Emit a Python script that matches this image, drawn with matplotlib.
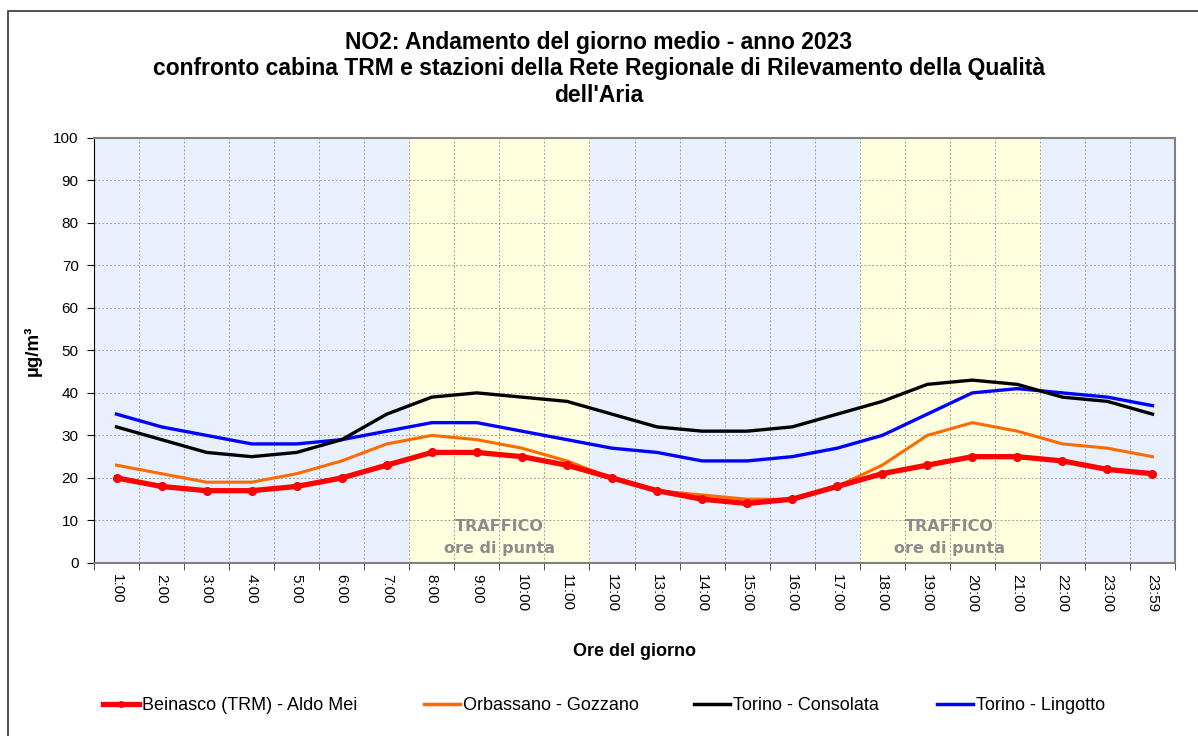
import matplotlib
matplotlib.use("Agg")
import matplotlib.pyplot as plt
from matplotlib.lines import Line2D
from matplotlib.patches import Rectangle
import numpy as np

plt.rcParams['font.family'] = ['Liberation Sans', 'DejaVu Sans']

hours = ["1:00", "2:00", "3:00", "4:00", "5:00", "6:00", "7:00", "8:00", "9:00", "10:00",
         "11:00", "12:00", "13:00", "14:00", "15:00", "16:00", "17:00", "18:00", "19:00",
         "20:00", "21:00", "22:00", "23:00", "23:59"]
beinasco = [20, 18, 17, 17, 18, 20, 23, 26, 26, 25, 23, 20, 17, 15, 14, 15, 18, 21, 23, 25, 25, 24, 22, 21]
orbassano = [23, 21, 19, 19, 21, 24, 28, 30, 29, 27, 24, 20, 17, 16, 15, 15, 18, 23, 30, 33, 31, 28, 27, 25]
consolata = [32, 29, 26, 25, 26, 29, 35, 39, 40, 39, 38, 35, 32, 31, 31, 32, 35, 38, 42, 43, 42, 39, 38, 35]
lingotto = [35, 32, 30, 28, 28, 29, 31, 33, 33, 31, 29, 27, 26, 24, 24, 25, 27, 30, 35, 40, 41, 40, 39, 37]
traffic_spans = [("8:00", "11:00"), ("18:00", "21:00")]

fig = plt.figure(figsize=(11.98, 7.36), dpi=100)
ax = fig.add_axes([94/1198, 1 - 563/736, (1175-94)/1198, (563-137.7)/736])

x = np.arange(len(hours))
ax.set_facecolor('#E8F0FE')
for a, b in traffic_spans:
    i0, i1 = hours.index(a), hours.index(b)
    ax.axvspan(i0 - 0.5, i1 + 0.5, color='#FFFFE0', zorder=0)
    xc = (i0 + i1) / 2
    ax.text(xc, 8.6, "TRAFFICO", ha='center', va='center', color='#8C8C8C',
            fontsize=11.5, fontweight='bold', family='DejaVu Sans', zorder=1)
    ax.text(xc, 3.3, "ore di punta", ha='center', va='center', color='#8C8C8C',
            fontsize=11.5, fontweight='bold', family='DejaVu Sans', zorder=1)

ax.plot(x, lingotto, color='#0000FF', lw=2.4, zorder=3, label='Torino - Lingotto')
ax.plot(x, consolata, color='#000000', lw=2.4, zorder=3, label='Torino - Consolata')
ax.plot(x, orbassano, color='#FF6A00', lw=2.2, zorder=3, label='Orbassano - Gozzano')
ax.plot(x, beinasco, color='#FF0000', lw=3.8, marker='o', ms=5.5, zorder=4,
        label='Beinasco (TRM) - Aldo Mei')

ax.set_xlim(-0.5, len(hours) - 0.5)
ax.set_ylim(0, 100)
ax.set_yticks(np.arange(0, 101, 10))
ax.set_xticks(x)
ax.set_xticklabels(hours, rotation=-90, fontsize=11)
ax.set_xticks(np.arange(-0.5, len(hours)), minor=True)
ax.tick_params(axis='x', which='major', length=0, pad=8)
ax.tick_params(axis='x', which='minor', length=5, direction='out', color='#333333')
ax.tick_params(axis='y', length=5, direction='out', labelsize=11, pad=6)
ax.grid(which='minor', axis='x', color='#A0A0A0', ls=(0, (2, 2)), lw=0.7, zorder=1)
ax.grid(which='major', axis='y', color='#A0A0A0', ls=(0, (2, 2)), lw=0.7, zorder=1)
ax.set_axisbelow(True)
for s in ['top', 'right', 'bottom']:
    ax.spines[s].set_color('#808080')
    ax.spines[s].set_linewidth(1.5)
ax.spines['left'].set_color('#000000')

ax.set_xlabel("Ore del giorno", fontsize=13, fontweight='bold', labelpad=22)
ax.set_ylabel("µg/m³", fontsize=13.5, fontweight='bold', labelpad=8)

title_lines = ["NO2: Andamento del giorno medio - anno 2023",
               "confronto cabina TRM e stazioni della Rete Regionale di Rilevamento della Qualità",
               "dell'Aria"]
for line, py in zip(title_lines, [42, 69, 96]):
    fig.text(0.5, 1 - py/736, line, ha='center', va='center', fontsize=16.5, fontweight='bold')

# legend entries
entries = [
    (Line2D([], [], color='#FF0000', lw=3.8, marker='o', ms=4), 'Beinasco (TRM) - Aldo Mei', 103),
    (Line2D([], [], color='#FF6A00', lw=2.5), 'Orbassano - Gozzano', 424),
    (Line2D([], [], color='#000000', lw=2.5), 'Torino - Consolata', 694),
    (Line2D([], [], color='#0000FF', lw=2.5), 'Torino - Lingotto', 937),
]
for h, lab, px in entries:
    fig.legend([h], [lab], loc='center left', bbox_to_anchor=(px/1198, 1 - 706/736),
               frameon=False, fontsize=13, handlelength=2.0, handletextpad=0.15,
               borderpad=0, borderaxespad=0)

fig.patches.append(Rectangle((8/1198, -0.05), 1.2, 1 - 11/736 + 0.05, transform=fig.transFigure,
                             fill=False, edgecolor='#333333', lw=1.2))

fig.savefig("out.png", dpi=100)
